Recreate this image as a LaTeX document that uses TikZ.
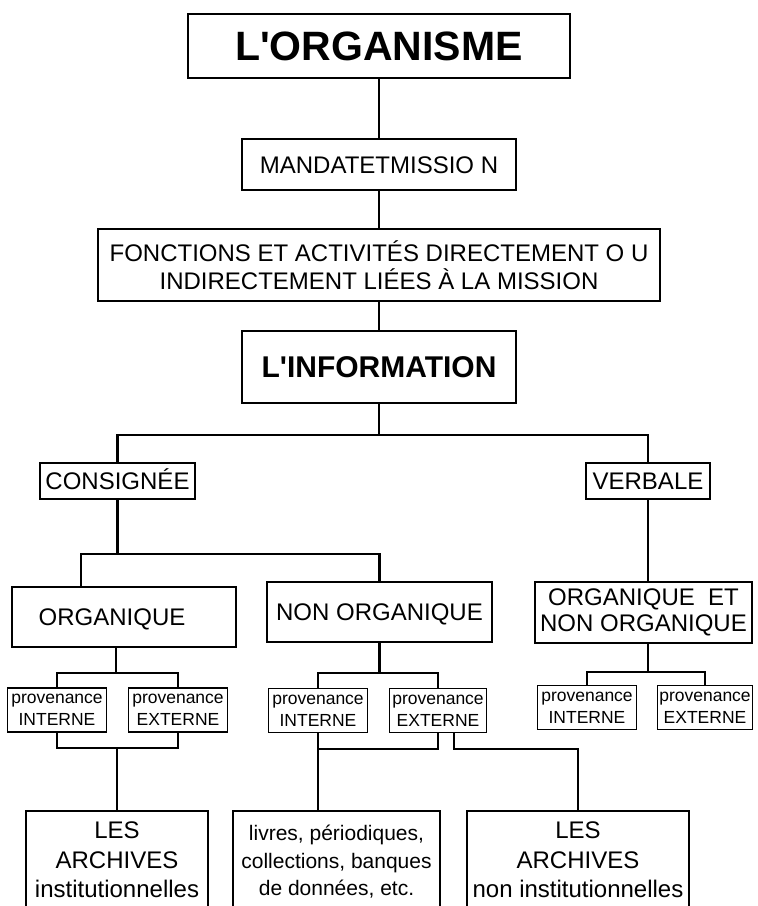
\documentclass[tikz,border=0pt]{standalone}
\usepackage{fontspec}
\setmainfont{Liberation Sans}
\begin{document}
\begin{tikzpicture}
        [x=1pt,y=-1pt,
         every node/.style={draw,line width=1.6pt,align=center,inner sep=0pt,font=\fontsize{24}{28}\selectfont},
         box/.style 2 args={minimum width=#1pt,minimum height=#2pt},
         oneline/.style={text height=17.2pt,text depth=0pt},
         titlebox/.style={font=\fontsize{41}{46}\selectfont\bfseries},
         provbox/.style={minimum width=99pt,minimum height=44pt,font=\fontsize{17.5}{22}\selectfont},
         link/.style={line width=2pt},
         bus/.style={line width=2.6pt}]
        \useasboundingbox (0,0) rectangle (758,906);

        \node[titlebox,box={382}{64}] (organisme) at (379,46) {L\textquotesingle ORGANISME};
        \node[box={274}{51},oneline] (mandat) at (379,164.5) {MANDATETMISSIO N};
        \node[box={562}{72}] (fonctions) at (379,265) {FONCTIONS ET ACTIVITÉS DIRECTEMENT O U\\INDIRECTEMENT LIÉES À LA MISSION};
        \node[box={274}{72},font=\fontsize{30}{34}\selectfont\bfseries] (information) at (379,367) {L\textquotesingle INFORMATION};
        \node[box={155}{36},oneline] (consignee) at (117.5,481) {CONSIGNÉE};
        \node[box={124}{36},oneline] (verbale) at (648,481) {VERBALE};
        \node[box={224}{60},oneline] (organique) at (124,617) {ORGANIQUE\hspace*{24pt}};
        \node[box={225}{60},oneline] (nonorg) at (379.5,612) {NON ORGANIQUE};
        \node[box={217}{61},font=\fontsize{24}{26}\selectfont] (orgnonorg) at (643.5,612.5) {ORGANIQUE\ \ ET\\NON ORGANIQUE};

        \node[provbox] (pi1) at (57,710) {provenance\\INTERNE};
        \node[provbox] (pe1) at (178,710) {provenance\\EXTERNE};
        \node[provbox] (pi2) at (318,710.5) {provenance\\INTERNE};
        \node[provbox,minimum width=97pt] (pe2) at (438,710.5) {provenance\\EXTERNE};
        \node[provbox] (pi3) at (587,707.5) {provenance\\INTERNE};
        \node[provbox,minimum width=95pt] (pe3) at (705,707.5) {provenance\\EXTERNE};

        \node[box={182}{98},font=\fontsize{24}{29.5}\selectfont,anchor=north] (arch1) at (117,810) {LES\\ARCHIVES\\institutionnelles};
        \node[box={207}{102},font=\fontsize{21}{27.5}\selectfont,anchor=north] (livres) at (336.5,810) {livres, périodiques,\\collections, banques\\de données, etc.};
        \node[box={222}{98},font=\fontsize{24}{29.5}\selectfont,anchor=north] (arch2) at (578,810) {LES\\ARCHIVES\\non institutionnelles};

        \path [link] (organisme) edge (mandat);
        \path [link] (mandat) edge (fonctions);
        \path [link] (fonctions) edge (information);

        \coordinate (ji) at (379,435);
        \draw[bus] (information) -- (ji);
        \draw[bus] (consignee.north) |- (ji) -| (verbale.north);

        \coordinate (jc) at (117.5,554);
        \coordinate (jo) at (81,554);
        \draw[bus] (consignee) -- (jc);
        \draw[bus] (jo |- organique.north) -- (jo) -| (nonorg.north);
        \draw[bus] (verbale) -- (verbale |- orgnonorg.north);

        \coordinate (jo2) at (116,673);
        \draw[bus] (jo2 |- organique.south) -- (jo2);
        \draw[bus] (pi1.north) |- (jo2) -| (pe1.north);
        \coordinate (jn) at (379.5,673);
        \draw[bus] (nonorg) -- (jn);
        \draw[bus] (pi2.north) |- (jn) -| (pe2.north);
        \coordinate (jv) at (648,672);
        \draw[bus] (jv |- orgnonorg.south) -- (jv);
        \draw[bus] (pi3.north) |- (jv) -| (pe3.north);

        \coordinate (jl1) at (117,748);
        \draw[bus] (pi1.south) |- (jl1) -| (pe1.south);
        \draw[bus] (jl1) -- (arch1);
        \coordinate (jl2) at (318,749);
        \draw[bus] (pi2.south) -- (jl2) -| (pe2.south);
        \draw[bus] (jl2) -- (jl2 |- livres.north);
        \coordinate (jr) at (578,749);
        \draw[bus] ([xshift=16pt]pe2.south) |- (jr) -- (arch2);
\end{tikzpicture}
\end{document}
